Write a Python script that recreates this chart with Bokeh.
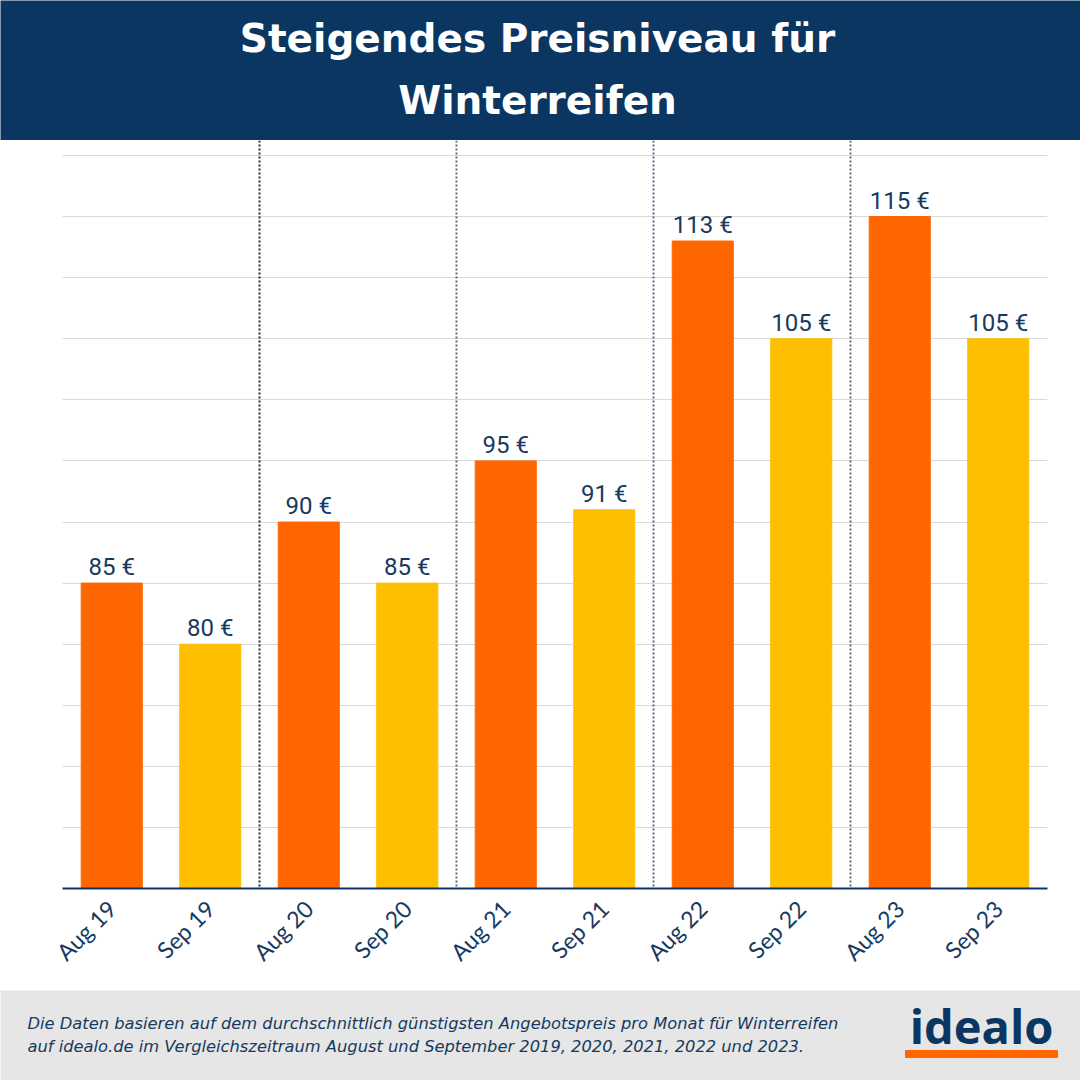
from bokeh.plotting import figure
from bokeh.layouts import column
from bokeh.models import ColumnDataSource, FixedTicker, Span, Range1d
from bokeh.core.properties import value
from bokeh.embed import file_html
from bokeh.resources import INLINE
import math

# ---- data ----
categories = ["Aug 19", "Sep 19", "Aug 20", "Sep 20", "Aug 21", "Sep 21",
              "Aug 22", "Sep 22", "Aug 23", "Sep 23"]
prices = [85, 80, 90, 85, 95, 91, 113, 105, 115, 105]
value_labels = [f"{v} €" for v in prices]
month_colors = {"Aug": "#ff6600", "Sep": "#fdbf00"}
title_lines = ["Steigendes Preisniveau für", "Winterreifen"]
footer_lines = [
    "Die Daten basieren auf dem durchschnittlich günstigsten Angebotspreis pro Monat für Winterreifen",
    "auf idealo.de im Vergleichszeitraum August und September 2019, 2020, 2021, 2022 und 2023.",
]
Y_MIN, Y_MAX, Y_STEP = 60, 120, 5

NAVY = "#0b3661"
TEXT_NAVY = "#163a5f"
W = 1080
TOP_H, FOOT_H = 140, 90
MAIN_H = W - TOP_H - FOOT_H

# ---- title band ----
top = figure(width=W, height=TOP_H, x_range=Range1d(0, W), y_range=Range1d(0, TOP_H),
             output_backend="svg", toolbar_location=None, min_border=0,
             background_fill_color=NAVY, border_fill_color=NAVY, outline_line_color=None)
top.frame_align = False
top.axis.visible = False
top.grid.visible = False
top.text(x=[W / 2 - 3, W / 2 - 3], y=[TOP_H - 38, TOP_H - 100], text=title_lines,
         text_align="center", text_baseline="middle", text_color="white",
         text_font=value("DejaVu Sans"), text_font_style="bold", text_font_size="39px")

# ---- main chart ----
colors = [month_colors[c.split()[0]] for c in categories]
src = ColumnDataSource(dict(cat=categories, price=prices, lab=value_labels, color=colors,
                            base=[Y_MIN] * len(prices)))

px_per_unit = 733 / (Y_MAX - Y_MIN)
y_top = Y_MAX + 15 / px_per_unit

p = figure(width=W, height=MAIN_H, x_range=categories, y_range=Range1d(Y_MIN, y_top),
           output_backend="svg", toolbar_location=None,
           min_border_left=62, min_border_right=33, min_border_top=0, min_border_bottom=102,
           outline_line_color=None, background_fill_color="white", border_fill_color="white")
p.frame_align = False
p.x_range.range_padding = 0
p.vbar(x="cat", top="price", bottom="base", width=0.62, color="color", source=src)
p.text(x="cat", y="price", text="lab", source=src, text_align="center", text_baseline="bottom",
       y_offset=-2, text_color=TEXT_NAVY, text_font=value("Roboto"), text_font_size="24px")

p.yaxis.visible = False
p.ygrid.ticker = FixedTicker(ticks=list(range(Y_MIN, Y_MAX + 1, Y_STEP)))
p.ygrid.grid_line_color = "#d9d9d9"
p.ygrid.grid_line_width = 1
p.xgrid.grid_line_color = None

p.xaxis.axis_line_color = NAVY
p.xaxis.axis_line_width = 2
p.xaxis.major_tick_line_color = None
p.xaxis.minor_tick_line_color = None
p.xaxis.major_label_orientation = math.pi / 4
p.xaxis.major_label_text_font = "Lato"
p.xaxis.major_label_text_font_size = "23px"
p.xaxis.major_label_text_color = TEXT_NAVY
p.xaxis.major_label_standoff = 10

for i, b in enumerate(range(2, len(categories), 2)):
    p.add_layout(Span(location=b, dimension="height",
                      line_color="#1c2b3a" if i == 0 else "#5b6e84",
                      line_width=2, line_dash="2 2"))

# ---- footer ----
foot = figure(width=W, height=FOOT_H, x_range=Range1d(0, W), y_range=Range1d(0, FOOT_H),
              output_backend="svg", toolbar_location=None, min_border=0,
              background_fill_color="#e6e6e6", border_fill_color="#e6e6e6", outline_line_color=None)
foot.frame_align = False
foot.axis.visible = False
foot.grid.visible = False
foot.text(x=[27, 27], y=[FOOT_H - 33, FOOT_H - 56], text=footer_lines,
          text_align="left", text_baseline="middle", text_color=TEXT_NAVY,
          text_font=value("DejaVu Sans"), text_font_style="italic", text_font_size="16.3px")
foot.text(x=[981], y=[FOOT_H - 35], text=["idealo"], text_align="center", text_baseline="middle",
          text_color=NAVY, text_font=value("Open Sans"), text_font_style="bold",
          text_font_size="47px")
foot.quad(left=[905], right=[1057], bottom=[FOOT_H - 67], top=[FOOT_H - 60], color="#ff6600")

layout = column(top, p, foot, spacing=0)
open("out.html", "w").write(file_html(layout, INLINE))
